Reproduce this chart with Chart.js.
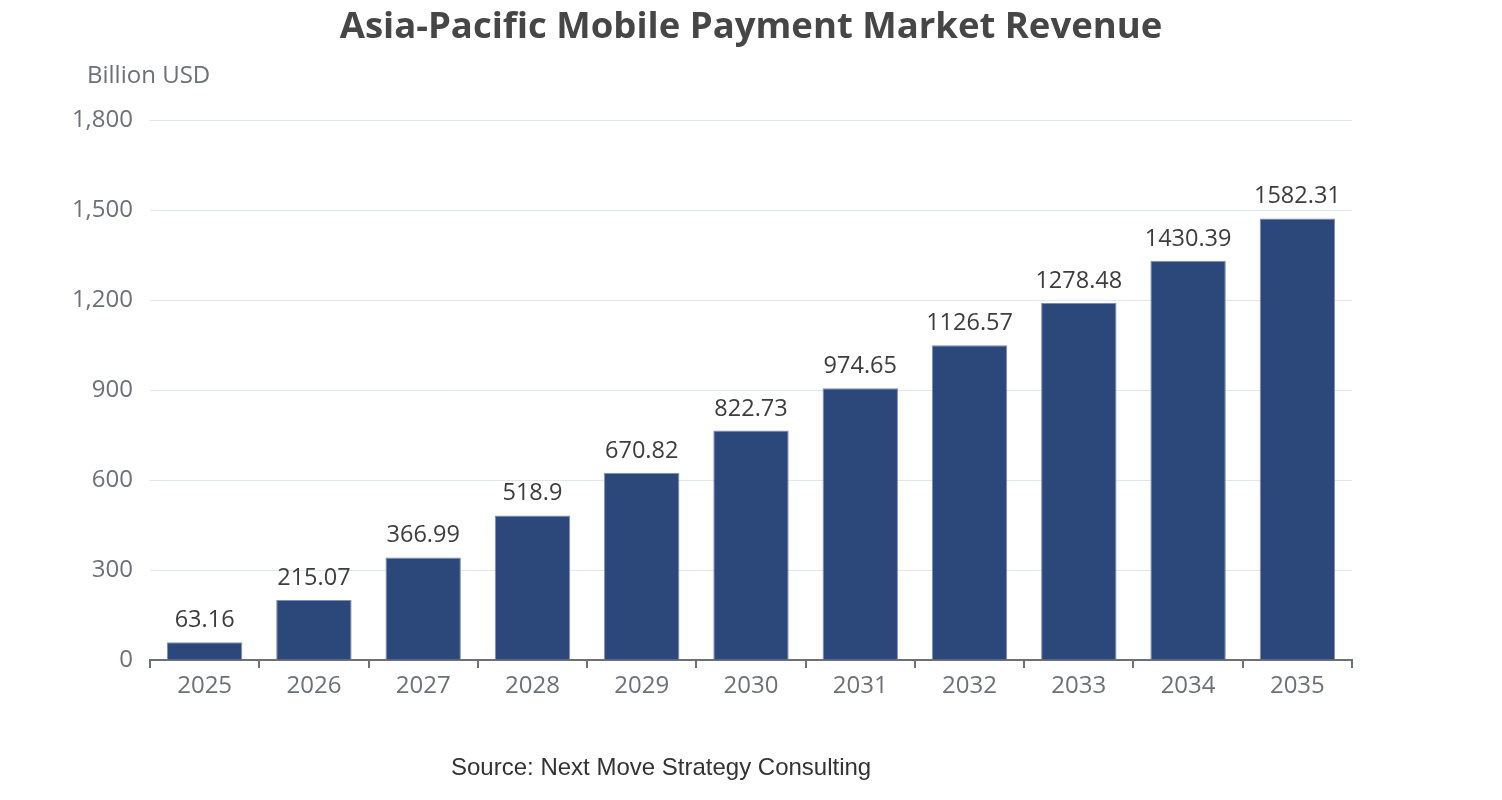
<!DOCTYPE html>
<html>
<head>
<meta charset="utf-8">
<title>Asia-Pacific Mobile Payment Market Revenue</title>
<script src="https://cdn.jsdelivr.net/npm/chart.js@4/dist/chart.umd.min.js"></script>
<style>
  html, body { margin: 0; padding: 0; background: #ffffff; }
  #wrap { width: 1502px; height: 800px; position: relative; }
</style>
</head>
<body>
<div id="wrap"><canvas id="revenue-chart"></canvas></div>
<script>
/*---------- Chart data ----------------*/
const years = ["2025", "2026", "2027", "2028", "2029", "2030", "2031", "2032", "2033", "2034", "2035"];
// bar heights as drawn in the picture
const barValues = [59, 200, 342, 482, 624, 765, 906, 1049, 1190, 1331, 1472];
// value labels printed above the bars
const valueLabels = ["63.16", "215.07", "366.99", "518.9", "670.82", "822.73", "974.65", "1126.57", "1278.48", "1430.39", "1582.31"];
const yTicks = [0, 300, 600, 900, 1200, 1500, 1800];

const titleText = "Asia-Pacific Mobile Payment Market Revenue";
const unitText = "Billion USD";
const sourceText = "Source: Next Move Strategy Consulting";

const axisGrey = "#6e7079";
const mainFont = "'Open Sans', 'Noto Sans', sans-serif";

/*---------- Plugin for title, unit, labels and source ----------*/
const textPlugin = {
  id: "textPlugin",
  afterDatasetsDraw(chart) {
    const ctx = chart.ctx;
    const meta = chart.getDatasetMeta(0);
    ctx.save();
    // labels above bars
    ctx.fillStyle = "#3d3d3d";
    ctx.font = "23.5px " + mainFont;
    ctx.textAlign = "center";
    ctx.textBaseline = "alphabetic";
    meta.data.forEach((bar, i) => {
      ctx.fillText(valueLabels[i], bar.x, bar.y - 15);
    });

    // title
    ctx.fillStyle = "#464646";
    ctx.font = "bold 36.5px " + mainFont;
    ctx.fillText(titleText, 751, 38);

    // y axis name
    ctx.fillStyle = axisGrey;
    ctx.font = "24px " + mainFont;
    ctx.textAlign = "left";
    ctx.fillText(unitText, 87, 83);

    // source line
    ctx.fillStyle = "#333333";
    ctx.font = "24px 'Liberation Sans', Arial, sans-serif";
    ctx.fillText(sourceText, 451, 775);
    ctx.restore();
  },
};

/*-----------Code to create bar chart---------------*/
const revenueChart = new Chart(document.getElementById("revenue-chart"), {
  type: "bar",
  data: {
    labels: years,
    datasets: [
      {
        data: barValues,
        backgroundColor: "#2c477a",
        borderColor: "#7d8fb3",
        borderWidth: 1,
        categoryPercentage: 1,
        barPercentage: 0.69,
      },
    ],
  },
  options: {
    responsive: true,
    maintainAspectRatio: false,
    animation: false,
    devicePixelRatio: 1,
    layout: {
      padding: { left: 0, top: 120, right: 150, bottom: 80 },
    },
    plugins: {
      legend: { display: false },
      tooltip: { enabled: false },
      title: { display: false },
    },
    scales: {
      x: {
        offset: true,
        grid: {
          offset: true,
          drawOnChartArea: false,
          drawTicks: true,
          tickLength: 8,
          color: axisGrey,
          lineWidth: 2,
        },
        border: { color: axisGrey, width: 2 },
        ticks: {
          color: axisGrey,
          font: { family: mainFont, size: 24 },
          padding: 4,
        },
        afterFit(scale) {
          scale.height = 60;
        },
      },
      y: {
        min: 0,
        max: 1800,
        afterBuildTicks(scale) {
          scale.ticks = yTicks.map((v) => ({ value: v }));
        },
        grid: {
          color: "#e0e6f1",
          drawTicks: false,
          lineWidth: 1,
        },
        border: { display: false },
        ticks: {
          color: axisGrey,
          font: { family: mainFont, size: 24 },
          padding: 17,
          callback: (v) => v.toLocaleString("en-US"),
        },
        afterFit(scale) {
          scale.width = 150;
        },
      },
    },
  },
  plugins: [textPlugin],
});
</script>
</body>
</html>
